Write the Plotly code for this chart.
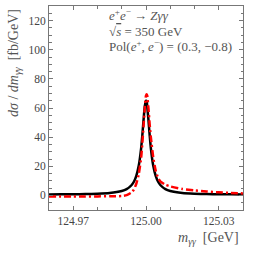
import plotly.graph_objects as go

# data (m_gamma gamma in GeV, dsigma/dm in fb/GeV)
mass = [124.96, 124.965, 124.97, 124.975, 124.98, 124.985, 124.99, 124.992,
        124.994, 124.995, 124.996, 124.997, 124.998, 124.9985, 124.999, 124.9995,
        125.0, 125.0003, 125.0005, 125.001, 125.0015, 125.002, 125.003, 125.004,
        125.005, 125.006, 125.008, 125.01, 125.015, 125.02, 125.025, 125.03,
        125.035, 125.04]
sm_black = [0.7, 0.75, 0.8, 0.9, 1.1, 1.6, 3.0, 4.3,
            7.0, 9.4, 13.4, 20.3, 32.5, 41.6, 52.0, 61.2,
            65.0, 64.5, 61.2, 52.0, 41.6, 32.5, 20.3, 13.4,
            9.4, 7.0, 4.3, 3.0, 1.6, 1.1, 0.9, 0.8,
            0.75, 0.7]
bsm_red = [-0.7, -0.7, -0.7, -0.7, -0.65, -0.6, -0.4, 0.2,
           2.0, 4.0, 8.0, 14.5, 26.0, 36.0, 48.0, 60.0,
           68.5, 69.5, 68.5, 60.0, 49.0, 40.0, 26.0, 17.0,
           12.0, 9.5, 7.3, 6.2, 4.4, 3.5, 2.7, 2.1,
           1.7, 1.4]

x_tickvals = [124.97, 125.00, 125.03]
x_ticktext = ["124.97", "125.00", "125.03"]
y_tickvals = [0, 20, 40, 60, 80, 100, 120]
y_ticktext = ["0", "20", "40", "60", "80", "100", "120"]

FONT = "Liberation Serif"
TXT = "#555555"
AX = "#777777"

# plot area in pixels
L, R, T, B = 49, 243, 6, 210


def px(xp):
    return (xp - L) / (R - L)


def py(yp):
    return (B - yp) / (B - T)


fig = go.Figure()
fig.add_trace(go.Scatter(x=mass, y=sm_black, mode="lines",
                         line=dict(color="black", width=2.5, shape="spline", smoothing=0.5)))
fig.add_trace(go.Scatter(x=mass, y=bsm_red, mode="lines",
                         line=dict(color="#ff0000", width=2.5, dash="7px,3px,2px,3px",
                                   shape="spline", smoothing=0.5)))

axis_common = dict(showline=True, linecolor=AX, linewidth=1, mirror="allticks",
                   ticks="inside", ticklen=4, tickcolor=AX, showgrid=False, zeroline=False,
                   tickfont=dict(family=FONT, size=11.5, color="#444444"))

fig.update_xaxes(range=[124.96, 125.04], tickvals=x_tickvals, ticktext=x_ticktext,
                 minor=dict(ticks="inside", dtick=0.01, tick0=124.96, ticklen=3, tickcolor=AX),
                 **axis_common)
fig.update_yaxes(range=[-10, 130], tickvals=y_tickvals, ticktext=y_ticktext,
                 minor=dict(ticks="inside", dtick=5, tick0=0, ticklen=2.5, tickcolor=AX),
                 **axis_common)

annos = [
    dict(x=107, y=15, text="<i>e</i><sup>+</sup><i>e</i><sup>−</sup> → <i>Zγγ</i>"),
    dict(x=107, y=31, text="√<span style='text-decoration:overline'><i>s</i></span> = 350 GeV"),
    dict(x=107, y=46, text="Pol(<i>e</i><sup>+</sup>, <i>e</i><sup>−</sup>) = (0.3, −0.8)"),
]
for a in annos:
    fig.add_annotation(x=px(a["x"]), y=py(a["y"]), xref="paper", yref="paper",
                       text=a["text"], showarrow=False, xanchor="left", yanchor="middle",
                       font=dict(family=FONT, size=13, color=TXT))

# axis titles
fig.add_annotation(x=px(14), y=py(63), xref="paper", yref="paper", textangle=-90,
                   text="<i>dσ</i> / <i>dm</i><sub><i>γγ</i></sub>  [fb/GeV]", showarrow=False,
                   xanchor="center", yanchor="middle",
                   font=dict(family=FONT, size=14, color=TXT))
fig.add_annotation(x=px(241), y=py(238), xref="paper", yref="paper",
                   text="<i>m</i><sub><i>γγ</i></sub>  [GeV]", showarrow=False,
                   xanchor="right", yanchor="middle",
                   font=dict(family=FONT, size=14, color=TXT))

fig.update_layout(width=254, height=255, showlegend=False,
                  margin=dict(l=L, r=254 - R, t=T, b=255 - B),
                  paper_bgcolor="white", plot_bgcolor="white")
fig.write_html("out.html", config={"displayModeBar": False},
               post_script="document.body.style.margin='0';")
